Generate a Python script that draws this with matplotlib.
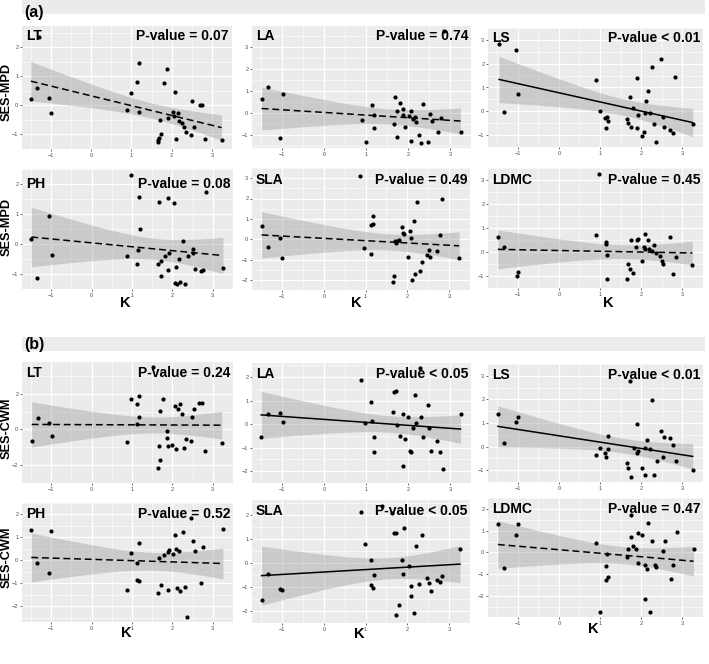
import numpy as np
import matplotlib
matplotlib.use("Agg")
import matplotlib.pyplot as plt
from matplotlib.patches import Rectangle

# ---------------- data ----------------
# (a) SES-MPD
aLT_x = [-1.50, -1.34, -1.05, -1.00, 0.90, 0.98, 1.14, 1.18, 1.19, 1.72, 1.73, 1.68, 1.65, 1.65,
         1.81, 1.89, 1.92, 2.03, 2.07, 2.09, 2.12, 2.17, 2.19, 2.25, 2.31, 2.35, 2.49, 2.51, 2.55,
         2.70, 2.75, 2.83, 3.24, -1.30]
aLT_y = [0.23, 0.60, 0.25, -0.26, -0.15, 0.42, 0.80, 1.47, -0.23, -0.51, -0.99, -1.11, -1.19, -1.25,
         0.77, 1.25, -0.42, -0.23, -0.36, 0.48, -1.16, -0.25, -0.55, -0.59, -0.74, -0.93, -1.02, 0.14,
         -0.74, 0.02, 0.02, -1.16, -1.20, 2.35]

aLA_x = [-1.49, -1.34, -1.06, -0.99, 0.89, 0.99, 1.14, 1.18, 1.19, 1.66, 1.69, 1.73, 1.74, 1.81,
         1.88, 1.88, 1.92, 2.02, 2.08, 2.08, 2.12, 2.16, 2.20, 2.27, 2.32, 2.36, 2.48, 2.52, 2.56,
         2.72, 2.78, 3.25, 2.85]
aLA_y = [0.65, 1.18, -1.14, 0.88, -0.33, -1.33, 0.35, -0.08, -0.70, -0.50, 0.73, -1.09, 0.08, 0.48,
         0.18, -0.08, -0.64, -0.15, 0.11, -1.29, -0.26, -0.18, -0.39, -0.98, -1.36, 0.42, -1.33, -0.05,
         -0.38, -0.88, -0.23, -0.86, 3.72]

aLS_x = [-1.45, -1.33, -1.03, -0.98, 0.89, 1.00, 1.13, 1.18, 1.20, 1.14, 1.66, 1.68, 1.72, 1.74,
         1.81, 1.89, 1.89, 1.93, 2.02, 2.07, 2.10, 2.11, 2.17, 2.21, 2.27, 2.31, 2.36, 2.48, 2.52,
         2.56, 2.70, 2.76, 2.83, 3.25]
aLS_y = [2.84, -0.05, 2.59, 0.73, 1.33, 0.01, -0.28, -0.24, -0.40, -0.71, -0.34, -0.49, 0.58, -0.64,
         0.13, 1.38, -0.71, -0.15, -1.02, -0.86, -0.09, 0.44, 0.86, -0.06, 1.88, -0.53, -1.28, 2.19, -0.26,
         -0.65, -0.79, -0.93, 1.45, -0.55]

aPH_x = [-1.49, -1.34, -1.05, -0.99, 0.88, 0.98, 1.14, 1.13, 1.18, 1.19, 1.65, 1.68, 1.71, 1.73,
         1.81, 1.89, 1.89, 1.91, 2.03, 2.07, 2.11, 2.09, 2.17, 2.20, 2.26, 2.32, 2.38, 2.50, 2.52,
         2.56, 2.70, 2.77, 2.84, 3.25]
aPH_y = [0.17, -1.14, 0.93, -0.39, -0.40, 2.30, -0.22, -0.68, 1.58, 0.49, -0.67, 1.41, -0.59, -1.09,
         -0.42, 1.52, -0.87, -0.31, 1.36, -1.31, -1.34, -0.79, -0.50, -1.27, 0.11, -1.33, -0.40, -0.31,
         -0.18, -0.84, -0.90, -0.87, 1.74, -0.81]

aSLA_x = [-1.49, -1.34, -1.04, -1.00, 0.87, 0.97, 1.12, 1.14, 1.18, 1.18, 1.66, 1.68, 1.70, 1.72,
          1.76, 1.80, 1.87, 1.90, 1.93, 2.01, 2.07, 2.09, 2.10, 2.15, 2.19, 2.24, 2.31, 2.34, 2.46,
          2.51, 2.55, 2.70, 2.77, 2.83, 3.24]
aSLA_y = [0.65, -0.38, 0.05, -0.92, 3.09, -0.45, -0.71, 0.70, 0.77, 1.12, -2.12, -1.83, -0.11, -0.21,
          -0.11, -0.06, 0.62, 0.29, 0.24, -0.86, 0.39, 0.06, -2.02, 0.88, -1.70, 1.83, -1.59, -1.12, -0.79,
          -0.52, -0.86, -0.56, 0.20, 1.98, -0.92]

aLDMC_x = [-1.48, -1.32, -1.02, -0.98, 0.89, 0.98, 1.14, 1.14, 1.18, 1.18, 1.66, 1.68, 1.72, 1.74,
           1.80, 1.88, 1.90, 1.92, 2.02, 2.06, 2.08, 2.10, 2.16, 2.20, 2.26, 2.30, 2.36, 2.46, 2.50,
           2.54, 2.70, 2.76, 2.84, 3.24]
aLDMC_y = [0.61, 0.19, -1.00, -0.85, 0.69, 3.23, 0.41, 0.34, -0.11, -1.14, -1.14, -0.48, -0.70, 0.52,
           -0.87, 0.19, 0.49, 0.54, -0.36, 0.19, 0.11, 0.73, 0.50, 0.11, 0.05, 0.29, -0.05, -0.16, -0.36,
           -0.52, 0.61, -0.90, -0.21, -0.56]

# (b) SES-CWM
bLT_x = [-1.48, -1.32, -1.04, -0.98, 0.88, 0.98, 1.12, 1.12, 1.18, 1.18, 1.64, 1.66, 1.70, 1.70,
         1.78, 1.86, 1.86, 1.89, 2.00, 2.06, 2.10, 2.14, 2.18, 2.24, 2.30, 2.34, 2.46, 2.48, 2.54,
         2.66, 2.74, 2.80, 3.22, 1.52]
bLT_y = [-0.67, 0.65, 0.34, -0.34, -0.69, 1.72, 1.42, 0.31, 1.89, 0.70, -2.18, -0.94, 1.06, -1.72,
         1.68, -0.10, -0.46, -0.94, -0.86, 1.29, -1.10, 1.13, 1.42, 0.86, -1.03, -0.52, -0.65, 0.70, 1.12,
         1.51, 1.51, -1.20, -0.77, 3.50]

bLA_x = [-1.50, -1.34, -1.05, -0.99, 0.88, 0.98, 1.12, 1.14, 1.18, 1.18, 1.65, 1.67, 1.71, 1.73,
         1.80, 1.88, 1.87, 1.92, 2.01, 2.05, 2.08, 2.11, 2.16, 2.19, 2.31, 2.35, 2.47, 2.50, 2.55,
         2.70, 2.76, 2.83, 3.25, 2.29]
bLA_y = [-0.54, 0.45, 0.49, 0.08, 1.86, 0.06, 0.94, 0.13, -0.53, -1.17, 0.53, 1.38, 1.42, -0.03,
         -0.49, 0.44, -1.76, -0.63, 0.32, -1.12, -1.19, -0.15, 1.24, 0.04, 0.29, -0.55, 0.83, -0.18, -1.14,
         -0.71, -1.19, -1.91, 0.45, 2.37]

bLS_x = [-1.48, -1.33, -1.03, -0.98, 0.90, 0.99, 1.13, 1.14, 1.19, 1.20, 1.66, 1.69, 1.73, 1.74,
         1.82, 1.89, 1.89, 1.92, 2.03, 2.08, 2.10, 2.13, 2.21, 2.26, 2.32, 2.38, 2.48, 2.52, 2.56,
         2.71, 2.78, 2.84, 3.25]
bLS_y = [1.40, 0.15, 1.05, 1.25, -0.37, -0.08, -0.28, -0.45, -0.12, 0.46, -0.68, -0.89, 2.80, -1.28,
         -0.06, 0.94, -0.28, -0.19, -0.91, -1.20, -0.06, 0.28, -0.10, 1.96, -1.20, -0.61, 0.65, -0.43, 0.40,
         0.38, 0.05, -0.60, -1.01]

bPH_x = [-1.49, -1.35, -1.04, -1.00, 0.88, 0.98, 1.13, 1.13, 1.18, 1.17, 1.65, 1.67, 1.73, 1.80,
         1.88, 1.89, 1.92, 2.02, 2.07, 2.09, 2.11, 2.16, 2.20, 2.26, 2.31, 2.35, 2.51, 2.56, 2.70,
         2.76, 3.25, 2.45]
bPH_y = [1.34, -0.09, -0.54, 1.28, -1.28, 0.34, -0.13, -0.83, -0.91, 0.78, -1.41, 0.11, -1.07, 0.24,
         -1.30, 0.36, 0.44, 0.27, 1.11, 0.50, -1.22, 0.43, -1.34, 1.23, -1.17, -2.48, 0.85, 0.40, -0.98,
         0.58, 1.37, 1.85]

bSLA_x = [-1.49, -1.33, -1.05, -0.99, 0.90, 0.98, 1.13, 1.14, 1.17, 1.20, 1.64, 1.68, 1.73, 1.72,
          1.80, 1.88, 1.90, 1.92, 2.03, 2.08, 2.09, 2.17, 2.20, 2.28, 2.36, 2.48, 2.52, 2.56, 2.71,
          2.77, 2.84, 3.26, 1.40]
bSLA_y = [-1.54, -0.44, -1.09, -1.12, 2.14, 0.78, 0.11, -0.93, -1.02, -0.49, 2.09, 1.27, 1.27, -2.16,
          -1.75, 0.12, -0.45, 1.47, -0.14, -1.39, -0.96, -2.09, 0.72, -0.89, 1.16, -0.64, -0.85, -1.17,
          -0.70, -0.81, -0.56, 0.57, 2.40]

bLDMC_x = [-1.48, -1.34, -1.05, -0.99, 0.89, 1.00, 1.14, 1.15, 1.18, 1.20, 1.66, 1.69, 1.74, 1.81,
           1.88, 1.91, 1.93, 2.03, 2.09, 2.09, 2.13, 2.17, 2.22, 2.27, 2.33, 2.37, 2.52, 2.57, 2.72,
           2.78, 2.86, 3.27, 1.76]
bLDMC_y = [1.33, -0.69, 0.82, 1.31, 0.44, -2.72, -1.24, -0.62, -0.07, -1.11, -0.21, 0.16, 0.69, 0.30,
           0.14, 0.88, -0.48, 0.78, -2.13, -0.56, -0.76, 1.36, -2.75, 0.51, -0.59, -0.66, 0.07, 0.55,
           -1.21, -0.59, 0.92, 0.14, 1.73]

traits = ["LT", "LA", "LS", "PH", "SLA", "LDMC"]
p_text_a = ["P-value = 0.07", "P-value = 0.74", "P-value < 0.01",
            "P-value = 0.08", "P-value = 0.49", "P-value = 0.45"]
p_text_b = ["P-value = 0.24", "P-value < 0.05", "P-value < 0.01",
            "P-value = 0.52", "P-value < 0.05", "P-value = 0.47"]
signif_a = [False, False, True, False, False, False]
signif_b = [False, True, True, False, True, False]

data_a = [(aLT_x, aLT_y), (aLA_x, aLA_y), (aLS_x, aLS_y),
          (aPH_x, aPH_y), (aSLA_x, aSLA_y), (aLDMC_x, aLDMC_y)]
data_b = [(bLT_x, bLT_y), (bLA_x, bLA_y), (bLS_x, bLS_y),
          (bPH_x, bPH_y), (bSLA_x, bSLA_y), (bLDMC_x, bLDMC_y)]

# ---------------- layout (pixels) ----------------
W, H = 709, 664
# (left, top, right, bottom) in pixels
boxes_a = [(22, 26, 232, 149), (252, 26, 471, 148), (488, 28, 703, 147),
           (22, 169, 233, 289), (252, 168, 470, 290), (488, 168, 703, 288)]
boxes_b = [(22, 362, 233, 483), (252, 363, 471, 483), (488, 364, 703, 482),
           (22, 503, 233, 622), (252, 500, 470, 623), (488, 498, 703, 617)]
label_drop_a = [3, 3, 3, 8, 5, 5]
label_drop_b = [4, 4, 4, 4, 4, 4]
xlims_col = [(-1.72, 3.30), (-1.72, 3.50), (-1.72, 3.50)]
ylims_a = [(-1.45, 2.74), (-1.59, 3.97), (-1.46, 3.00),
           (-1.51, 2.49), (-2.33, 3.20), (-1.34, 3.43)]
ylims_b = [(-2.44, 3.78), (-2.05, 2.60), (-1.46, 2.96),
           (-2.68, 2.08), (-2.39, 2.63), (-2.96, 1.95)]
yticks_a = [[-1, 0, 1, 2], [-1, 0, 1, 2, 3], [-1, 0, 1, 2, 3],
            [-1, 0, 1, 2], [-2, -1, 0, 1, 2, 3], [-1, 0, 1, 2, 3]]
yticks_b = [[-2, 0, 2], [-2, -1, 0, 1, 2], [-1, 0, 1, 2, 3],
            [-2, -1, 0, 1, 2], [-2, -1, 0, 1, 2], [-2, -1, 0, 1, 2]]
xticks = [-1, 0, 1, 2, 3]

BG = "#EBEBEB"
FONT = ["Liberation Sans", "DejaVu Sans"]
plt.rcParams["font.family"] = FONT

fig = plt.figure(figsize=(W / 100, H / 100), dpi=100)
fig.patch.set_facecolor("white")


def fig_rect(l, t, r, b):
    return [l / W, 1 - b / H, (r - l) / W, (b - t) / H]


def fit_band(x, y, n_pts=100):
    x = np.asarray(x, float)
    y = np.asarray(y, float)
    n = len(x)
    b1, b0 = np.polyfit(x, y, 1)
    xs = np.linspace(x.min(), x.max(), n_pts)
    yhat = b0 + b1 * xs
    res = y - (b0 + b1 * x)
    s = np.sqrt(np.sum(res ** 2) / (n - 2))
    sxx = np.sum((x - x.mean()) ** 2)
    se = s * np.sqrt(1.0 / n + (xs - x.mean()) ** 2 / sxx)
    t = 2.04
    return xs, yhat, yhat - t * se, yhat + t * se


def draw_panel(box, xy, xlim, ylim, yt, trait, ptxt, sig, drop):
    ax = fig.add_axes(fig_rect(*box))
    ax.set_facecolor(BG)
    for sp in ax.spines.values():
        sp.set_visible(False)
    ax.set_xlim(*xlim)
    ax.set_ylim(*ylim)
    ax.set_xticks(xticks)
    ax.set_yticks(yt)
    step = yt[1] - yt[0]
    ax.set_xticks([v + 0.5 for v in [-2] + xticks], minor=True)
    ax.set_yticks([v + step / 2 for v in [yt[0] - step] + yt], minor=True)
    ax.grid(True, which="major", color="white", lw=0.9)
    ax.grid(True, which="minor", color="white", lw=0.4)
    ax.set_axisbelow(True)
    ax.tick_params(which="major", length=1.5, width=0.5, color="#333333",
                   labelsize=4, labelcolor="#4D4D4D", pad=1.2)
    ax.tick_params(which="minor", length=0)
    x, y = xy
    xs, yhat, lo, hi = fit_band(x, y)
    ax.fill_between(xs, lo, hi, color="#999999", alpha=0.4, lw=0, zorder=2)
    ax.plot(xs, yhat, color="black", lw=1.1,
            ls="-" if sig else (0, (4.5, 2.5)), zorder=3)
    ax.scatter(x, y, s=9, color="black", lw=0, zorder=4)
    ax.annotate(trait, xy=(0, 1), xycoords="axes fraction", xytext=(4, -drop),
                textcoords="offset pixels", ha="left", va="top",
                fontsize=10, fontweight="bold", zorder=6)
    ax.annotate(ptxt, xy=(1, 1), xycoords="axes fraction", xytext=(-3, -drop),
                textcoords="offset pixels", ha="right", va="top",
                fontsize=10, fontweight="bold", zorder=6)
    return ax


for i in range(6):
    col = i % 3
    draw_panel(boxes_a[i], data_a[i], xlims_col[col], ylims_a[i], yticks_a[i],
               traits[i], p_text_a[i], signif_a[i], label_drop_a[i])
    draw_panel(boxes_b[i], data_b[i], xlims_col[col], ylims_b[i], yticks_b[i],
               traits[i], p_text_b[i], signif_b[i], label_drop_b[i])

# header strips
for (top, bot, lab, ty) in [(0, 14, "(a)", 12), (337, 351, "(b)", 344)]:
    fig.patches.append(Rectangle((22 / W, 1 - bot / H), (705 - 22) / W, (bot - top) / H,
                                 transform=fig.transFigure, facecolor="#EBEBEB",
                                 edgecolor="none", zorder=0))
    fig.text(24 / W, 1 - ty / H, lab, ha="left", va="center", fontsize=11.5,
             fontweight="bold")

# y labels
for lab, yc in [("SES-MPD", 92), ("SES-MPD", 227), ("SES-CWM", 428), ("SES-CWM", 557)]:
    fig.text(6.5 / W, 1 - yc / H, lab, rotation=90, ha="center", va="center",
             fontsize=9.2, fontweight="bold")

# x labels
for xc, yc in [(125, 303), (356, 303), (608, 303), (126, 633), (359, 634), (593, 629)]:
    fig.text(xc / W, 1 - yc / H, "K", ha="center", va="center", fontsize=10.5,
             fontweight="bold")

fig.savefig("out.png", dpi=100, facecolor="white")
